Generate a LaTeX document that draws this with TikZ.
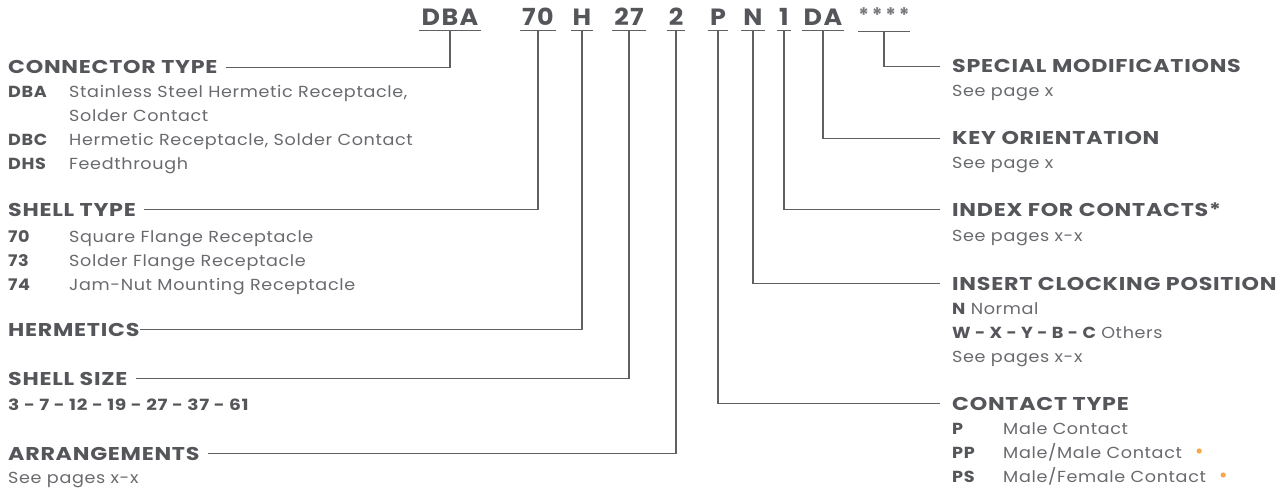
\documentclass[tikz,border=0pt]{standalone}
\usepackage{fontspec}
\setmainfont{Poppins}
\usetikzlibrary{calc}
\definecolor{hd}{RGB}{85,86,90}
\definecolor{bd}{RGB}{105,106,110}
\definecolor{ln}{RGB}{95,96,100}
\definecolor{stc}{RGB}{120,121,125}
\definecolor{dotc}{RGB}{247,166,72}
\newfontfamily\headfont[LetterSpace=4,FakeStretch=1.2]{Poppins}
\newfontfamily\bodyfont[LetterSpace=4,FakeStretch=1.1]{Poppins}
\newfontfamily\codefont[LetterSpace=6,FakeStretch=1.08]{Poppins}
\newfontfamily\starfont[LetterSpace=14]{Poppins}
\tikzset{
  code/.style={font=\codefont\bfseries\fontsize{23.5}{23.5}\selectfont, text=hd, inner xsep=2pt, inner ysep=0pt, text depth=4pt, anchor=base},
  uline/.style={draw=ln, line width=1.2pt},
  head/.style={font=\headfont\bfseries\fontsize{18.5}{18.5}\selectfont, text=hd, inner sep=0pt, text depth=0pt, anchor=base west},
  body/.style={font=\bodyfont\fontsize{16}{16}\selectfont, text=bd, inner sep=0pt, anchor=base west},
  conn/.style={draw=ln, line width=1.2pt},
}
\newcommand{\lkey}[1]{\makebox[61pt][l]{\textbf{\textcolor{hd}{#1}}}}
\newcommand{\rkey}[1]{\makebox[51pt][l]{\textbf{\textcolor{hd}{#1}}}}
\begin{document}
\begin{tikzpicture}[x=1pt,y=-1pt]
\useasboundingbox (0,0) rectangle (1284,489);
% codes
\node[code] (cDBA) at (450,26) {DBA};
\node[code] (c70) at (538,26) {70};
\node[code] (cH) at (582,26) {H};
\node[code] (c27) at (629,26) {27};
\node[code] (c2) at (676,26) {2};
\node[code] (cP) at (718,26) {P};
\node[code] (cN) at (753,26) {N};
\node[code] (c1) at (784,26) {1};
\node[code] (cDA) at (823,26) {DA};
\node[code, font=\starfont\bfseries\fontsize{20}{20}\selectfont, text=stc, text depth=8pt, inner xsep=0pt] (cS) at (884,23) {****};
\foreach \n in {cDBA,c70,cH,c27,c2,cP,cN,c1,cDA,cS}
  \draw[uline] (\n.south west) -- (\n.south east);
% left headings
\node[head] (ct) at (8,74) {CONNECTOR TYPE};
\node[body] at (8,98) {\lkey{DBA}Stainless Steel Hermetic Receptacle,};
\node[body] at (8,122) {\lkey{}Solder Contact};
\node[body] at (8,146) {\lkey{DBC}Hermetic Receptacle, Solder Contact};
\node[body] at (8,170) {\lkey{DHS}Feedthrough};
\node[head] (st) at (8,216) {SHELL TYPE};
\node[body] at (8,242) {\lkey{70}Square Flange Receptacle};
\node[body] at (8,266) {\lkey{73}Solder Flange Receptacle};
\node[body] at (8,290) {\lkey{74}Jam-Nut Mounting Receptacle};
\node[head] (he) at (8,336) {HERMETICS};
\node[head] (ss) at (8,385) {SHELL SIZE};
\node[body, font=\headfont\bfseries\fontsize{15.5}{15.5}\selectfont, text=hd] at (8,410) {3 - 7 - 12 - 19 - 27 - 37 - 61};
\node[head] (ar) at (8,460) {ARRANGEMENTS};
\node[body] at (8,483) {See pages x-x};
% right headings
\node[head] (sm) at (952,73) {SPECIAL MODIFICATIONS};
\node[body] at (952,97) {See page x};
\node[head] (ko) at (952,145) {KEY ORIENTATION};
\node[body] at (952,169) {See page x};
\node[head] (ic) at (952,216) {INDEX FOR CONTACTS*};
\node[body] at (952,241) {See pages x-x};
\node[head] (cp) at (952,290) {INSERT CLOCKING POSITION};
\node[body] at (952,314) {\textbf{\textcolor{hd}{N}} Normal};
\node[body] at (952,338) {\textbf{\textcolor{hd}{W - X - Y - B - C}} Others};
\node[body] at (952,362) {See pages x-x};
\node[head] (cty) at (952,410) {CONTACT TYPE};
\node[body] at (952,434) {\rkey{P}Male Contact};
\node[body] (pp) at (952,458) {\rkey{PP}Male/Male Contact};
\node[body] (ps) at (952,482) {\rkey{PS}Male/Female Contact};
\fill[dotc] ($(pp.base east)+(17,-7)$) circle (2.6);
\fill[dotc] ($(ps.base east)+(17,-7)$) circle (2.6);
% connectors left
\draw[conn] (cDBA.south) |- ([xshift=8pt]ct.east);
\draw[conn] (c70.south) |- ([xshift=8pt]st.east);
\draw[conn] (cH.south) |- (he.east);
\draw[conn] (c27.south) |- ([xshift=8pt]ss.east);
\draw[conn] (c2.south) |- ([xshift=8pt]ar.east);
% connectors right
\draw[conn] (cS.south) |- ([xshift=-12pt]sm.west);
\draw[conn] (cDA.south) |- ([xshift=-12pt]ko.west);
\draw[conn] (c1.south) |- ([xshift=-12pt]ic.west);
\draw[conn] (cN.south) |- ([xshift=-12pt]cp.west);
\draw[conn] (cP.south) |- ([xshift=-12pt]cty.west);
\end{tikzpicture}
\end{document}
